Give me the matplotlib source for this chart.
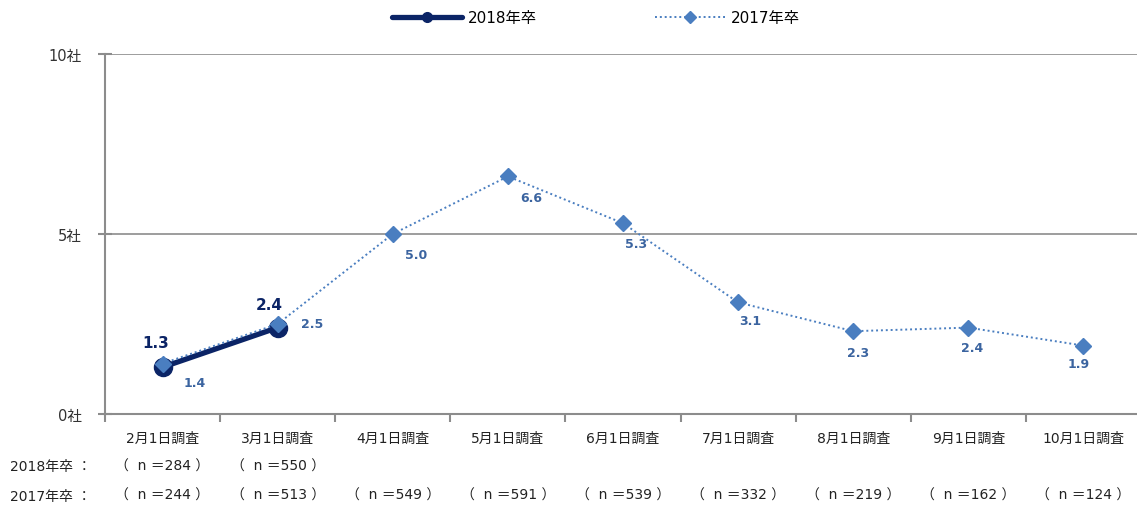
import matplotlib
matplotlib.use("Agg")
import matplotlib.pyplot as plt
from matplotlib.lines import Line2D

FAMILY = ['DejaVu Sans', 'Noto Sans CJK JP']
plt.rcParams['font.family'] = FAMILY

categories = ["2月1日調査", "3月1日調査", "4月1日調査", "5月1日調査", "6月1日調査",
              "7月1日調査", "8月1日調査", "9月1日調査", "10月1日調査"]
values_2018 = [1.3, 2.4]
values_2017 = [1.4, 2.5, 5.0, 6.6, 5.3, 3.1, 2.3, 2.4, 1.9]
n_2018 = [284, 550]
n_2017 = [244, 513, 549, 591, 539, 332, 219, 162, 124]
y_ticks = [0, 5, 10]
y_tick_labels = ["0社", "5社", "10社"]

# label offsets (pixels, +y up) for the value labels
offsets_2017 = [(32, -19), (34, 0), (23, -21), (23, -21), (13, -20),
                (12, -18), (5, -21), (4, -20), (-5, -18)]
offsets_2018 = [(-7, 25), (-8, 23)]

navy = "#0B2466"
blue = "#4A7EC0"
label_blue = "#3B64A0"
gray = "#8C8C8C"
text_color = "#222222"

W, H = 1137, 506
fig = plt.figure(figsize=(W / 100, H / 100), dpi=100)
left, right, top, bottom = 105, 1141, 55, 415
ax = fig.add_axes([left / W, 1 - bottom / H, (right - left) / W, (bottom - top) / H])

x = list(range(len(categories)))
ax.set_xlim(-0.5, len(categories) - 0.5)
ax.set_ylim(0, 10)

ax.plot(x[:len(values_2018)], values_2018, color=navy, lw=3.8, marker='o',
        markersize=13, markerfacecolor=navy, markeredgecolor=navy, zorder=3,
        solid_capstyle='round')
ax.plot(x, values_2017, color=blue, lw=1.4, ls=(0, (1, 1.5)), marker='D',
        markersize=8, markerfacecolor=blue, markeredgecolor=blue, zorder=4)

for xi, v, (dx, dy) in zip(x, values_2017, offsets_2017):
    ax.annotate(f"{v:.1f}", (xi, v), xytext=(dx, dy), textcoords='offset pixels',
                ha='center', va='center', fontsize=9, fontweight='bold',
                color=label_blue, zorder=5)
for xi, v, (dx, dy) in zip(x, values_2018, offsets_2018):
    ax.annotate(f"{v:.1f}", (xi, v), xytext=(dx, dy), textcoords='offset pixels',
                ha='center', va='center', fontsize=11, fontweight='bold',
                color=navy, zorder=5)

# grid and axes styling
for yv in y_ticks[1:]:
    ax.axhline(yv, color=gray, lw=1.2, zorder=1)
for s in ['top', 'right']:
    ax.spines[s].set_visible(False)
for s in ['left', 'bottom']:
    ax.spines[s].set_color(gray)
    ax.spines[s].set_linewidth(1.5)

ax.set_yticks(y_ticks)
ax.set_yticklabels([])
ax.tick_params(axis='y', direction='inout', length=10, width=1.5, color=gray)
# y tick labels placed right-aligned a fixed distance left of the axis
for yv, lab in zip(y_ticks, y_tick_labels):
    ax.annotate(lab, (0, yv), xycoords=('axes fraction', 'data'), xytext=(-23, -2),
                textcoords='offset pixels', ha='right', va='center',
                fontsize=10.5, color="#333333")

ax.set_xticks(x)
ax.set_xticklabels(categories, fontsize=10, color=text_color)
ax.tick_params(axis='x', which='major', length=0, pad=12)
ax.set_xticks([i - 0.5 for i in range(len(categories) + 1)], minor=True)
ax.tick_params(axis='x', which='minor', direction='out', length=6, width=1.5, color=gray)

# sample size rows under the category labels
tr = ax.get_xaxis_transform()
y_row1 = -(467 - bottom) / (bottom - top)
y_row2 = -(496 - bottom) / (bottom - top)
for xi, n in zip(x, n_2018):
    ax.text(xi, y_row1, f"（  n ＝{n} ）", transform=tr, ha='center', va='center',
            fontsize=10, color=text_color)
for xi, n in zip(x, n_2017):
    ax.text(xi, y_row2, f"（  n ＝{n} ）", transform=tr, ha='center', va='center',
            fontsize=10, color=text_color)
fig.text(10 / W, 1 - 467 / H, "2018年卒 ：", ha='left', va='center', fontsize=10,
         color=text_color)
fig.text(10 / W, 1 - 497 / H, "2017年卒 ：", ha='left', va='center', fontsize=10,
         color=text_color)

handles = [
    Line2D([], [], color=navy, lw=3.8, marker='o', markersize=7, solid_capstyle='round'),
    Line2D([], [], color=blue, lw=1.4, ls=(0, (1, 1.5)), marker='D', markersize=6),
]
fig.legend(handles, ["2018年卒", "2017年卒"], loc='center', bbox_to_anchor=(0.524, 1 - 19 / H),
           ncol=2, frameon=False, fontsize=11, handlelength=4.6,
           columnspacing=7.7, handletextpad=0.4)

fig.savefig("out.png", dpi=100)
